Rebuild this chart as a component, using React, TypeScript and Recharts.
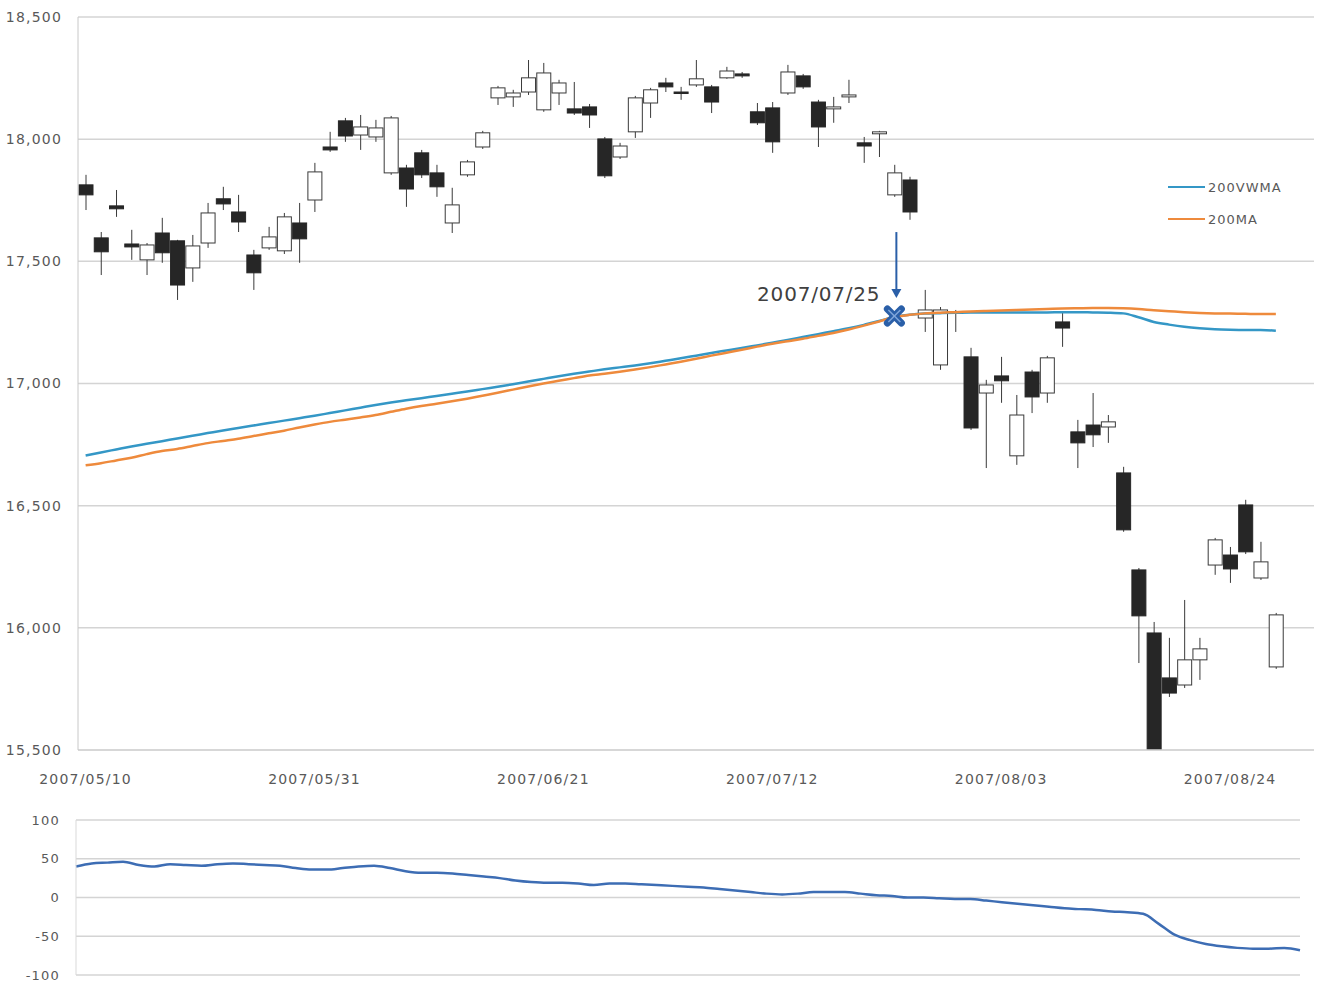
import React from 'react';
import {
  ComposedChart, LineChart, Bar, Line, XAxis, YAxis, CartesianGrid, ReferenceDot,
} from 'recharts';

// trading days (last two rows are empty slots on the axis)
const DATES = [
  '2007/05/10', '2007/05/11', '2007/05/14', '2007/05/15', '2007/05/16', '2007/05/17', '2007/05/18',
  '2007/05/21', '2007/05/22', '2007/05/23', '2007/05/24', '2007/05/25', '2007/05/28', '2007/05/29',
  '2007/05/30', '2007/05/31',
  '2007/06/01', '2007/06/04', '2007/06/05', '2007/06/06', '2007/06/07', '2007/06/08', '2007/06/11',
  '2007/06/12', '2007/06/13', '2007/06/14', '2007/06/15', '2007/06/18', '2007/06/19', '2007/06/20',
  '2007/06/21', '2007/06/22', '2007/06/25', '2007/06/26', '2007/06/27', '2007/06/28', '2007/06/29',
  '2007/07/02', '2007/07/03', '2007/07/04', '2007/07/05', '2007/07/06', '2007/07/09', '2007/07/10',
  '2007/07/11', '2007/07/12', '2007/07/13', '2007/07/17', '2007/07/18', '2007/07/19', '2007/07/20',
  '2007/07/23', '2007/07/24', '2007/07/25', '2007/07/26', '2007/07/27', '2007/07/30', '2007/07/31',
  '2007/08/01', '2007/08/02', '2007/08/03', '2007/08/06', '2007/08/07', '2007/08/08', '2007/08/09',
  '2007/08/10', '2007/08/13', '2007/08/14', '2007/08/15', '2007/08/16', '2007/08/17', '2007/08/20',
  '2007/08/21', '2007/08/22', '2007/08/23', '2007/08/24', '2007/08/27', '2007/08/28', '2007/08/29',
  '2007/08/30', '2007/08/31',
];

const OPEN = [
  17813, 17596, 17727, 17571, 17506, 17616, 17584, 17473, 17575, 17756, 17702, 17526, 17555, 17543, 17657, 17751,
  17968, 18075, 18017, 18009, 17862, 17882, 17944, 17862, 17657, 17854, 17968, 18169, 18173, 18193, 18120, 18189,
  18124, 18132, 18001, 17927, 18030, 18148, 18230, 18193, 18222, 18214, 18251, 18267, 18112, 18128, 18189, 18259,
  18152, 18124, 18173, 17985, 18022, 17772, 17833, 17268, 17076, 17289, 17109, 16961, 17031, 16704, 17047, 16961,
  17252, 16802, 16830, 16822, 16634, 16237, 15979, 15795, 15766, 15869, 16257, 16298, 16503, 16204, 15840,
];
const HIGH = [
  17854, 17620, 17792, 17629, 17575, 17678, 17588, 17608, 17739, 17805, 17772, 17547, 17641, 17698, 17739, 17903,
  18030, 18087, 18099, 18079, 18095, 17895, 17956, 17895, 17801, 17915, 18034, 18218, 18202, 18324, 18312, 18243,
  18234, 18144, 18009, 17985, 18177, 18210, 18251, 18214, 18324, 18222, 18296, 18275, 18148, 18152, 18304, 18267,
  18161, 18173, 18243, 18009, 18034, 17895, 17846, 17383, 17313, 17301, 17146, 17015, 17109, 16953, 17056, 17113,
  17293, 16851, 16961, 16871, 16659, 16245, 16024, 15959, 16114, 15959, 16368, 16331, 16524, 16352, 16061,
];
const LOW = [
  17710, 17444, 17682, 17506, 17444, 17494, 17342, 17416, 17555, 17710, 17620, 17383, 17547, 17530, 17494, 17702,
  17948, 17989, 17956, 17989, 17854, 17723, 17841, 17764, 17616, 17846, 17960, 18140, 18132, 18181, 18112, 18140,
  18099, 18046, 17841, 17919, 18005, 18087, 18193, 18161, 18214, 18107, 18247, 18251, 18058, 17944, 18181, 18206,
  17968, 18067, 18148, 17903, 17927, 17764, 17670, 17211, 17056, 17211, 16810, 16654, 16921, 16667, 16879, 16921,
  17150, 16654, 16740, 16757, 16393, 15856, 15262, 15717, 15754, 15787, 16217, 16184, 16302, 16196, 15832,
];
const CLOSE = [
  17772, 17539, 17715, 17559, 17567, 17535, 17403, 17563, 17698, 17735, 17661, 17453, 17600, 17682, 17592, 17866,
  17956, 18013, 18050, 18046, 18087, 17796, 17854, 17805, 17731, 17907, 18026, 18210, 18189, 18251, 18271, 18230,
  18107, 18099, 17850, 17972, 18169, 18202, 18214, 18189, 18247, 18152, 18279, 18259, 18067, 17989, 18275, 18214,
  18050, 18132, 18181, 17972, 18030, 17862, 17702, 17301, 17301, 17293, 16818, 16994, 17011, 16871, 16945, 17105,
  17227, 16757, 16790, 16843, 16401, 16049, 15273, 15733, 15869, 15914, 16360, 16241, 16311, 16270, 16053,
];

const VWMA = [
  16705, 16718, 16730, 16742, 16753, 16764, 16775, 16786, 16797, 16808, 16818, 16828, 16838, 16848, 16858, 16868,
  16879, 16890, 16901, 16912, 16922, 16931, 16940, 16949, 16958, 16967, 16977, 16987, 16997, 17008, 17019, 17030,
  17040, 17049, 17058, 17066, 17074, 17083, 17093, 17103, 17114, 17125, 17135, 17145, 17156, 17167, 17178, 17190,
  17202, 17214, 17226, 17240, 17256, 17272, 17281, 17286, 17288, 17290, 17291, 17291, 17291, 17291, 17291, 17291,
  17292, 17292, 17291, 17290, 17287, 17271, 17252, 17241, 17232, 17226, 17222, 17220, 17219, 17219, 17216,
];
const MA = [
  16665, 16674, 16685, 16696, 16711, 16724, 16732, 16744, 16756, 16765, 16774, 16785, 16796, 16807, 16820, 16832,
  16843, 16852, 16861, 16871, 16884, 16897, 16908, 16917, 16927, 16938, 16950, 16962, 16975, 16988, 17000, 17011,
  17022, 17033, 17040, 17048, 17057, 17067, 17078, 17089, 17101, 17114, 17126, 17138, 17151, 17163, 17173, 17183,
  17195, 17207, 17221, 17237, 17254, 17272, 17281, 17287, 17290, 17292, 17295, 17297, 17299, 17301, 17303, 17305,
  17307, 17308, 17309, 17309, 17308, 17305, 17300, 17296, 17292, 17289, 17287, 17286, 17285, 17284, 17284,
];
const DIFF = [
  40, 44, 45, 46, 42, 40, 43, 42, 41, 43, 44, 43, 42, 41, 38, 36,
  36, 38, 40, 41, 38, 34, 32, 32, 31, 29, 27, 25, 22, 20, 19, 19,
  18, 16, 18, 18, 17, 16, 15, 14, 13, 11, 9, 7, 5, 4, 5, 7,
  7, 7, 5, 3, 2, 0, 0, -1, -2, -2, -4, -6, -8, -10, -12, -14,
  -15, -16, -18, -19, -21, -34, -48, -55, -60, -63, -65, -66, -66, -65, -68,
];

const PRICE_TICKS = [15500, 16000, 16500, 17000, 17500, 18000, 18500];
const DIFF_TICKS = [-100, -50, 0, 50, 100];
const CROSS_DATE = '2007/07/25';
const CROSS_VALUE = 17276;

const SERIES = [
  { key: 'vwma', name: '200VWMA', color: '#3497c6' },
  { key: 'ma', name: '200MA', color: '#ee8a3c' },
];

const rows = DATES.map((date, i) =>
  i < OPEN.length
    ? { date, range: [LOW[i], HIGH[i]], open: OPEN[i], high: HIGH[i], low: LOW[i], close: CLOSE[i], vwma: VWMA[i], ma: MA[i] }
    : { date }
);
const diffRows = DIFF.map((v, i) => ({ date: DATES[i], diff: v }));

const tickStyle = { fontSize: 14, fontFamily: 'DejaVu Sans', fill: '#595959', letterSpacing: 1.2 };
const smallTick = { ...tickStyle, fontSize: 13 };

function Candle(props: any) {
  const { x, y, width, height, payload } = props;
  if (!payload || payload.open == null) return null;
  const { open, close, high, low } = payload;
  const top = Math.min(y, y + height);
  const h = Math.abs(height);
  const k = h / (high - low);
  const bTop = top + (high - Math.max(open, close)) * k;
  const bBot = top + (high - Math.min(open, close)) * k;
  const mid = x + width / 2;
  const down = close < open;
  return (
    <g>
      <line x1={mid} x2={mid} y1={top} y2={top + h} stroke="#3a3a3a" strokeWidth={1} />
      <rect
        x={x} y={bTop} width={width} height={Math.max(bBot - bTop, 1.5)}
        fill={down ? '#262626' : '#ffffff'} stroke={down ? '#262626' : '#3a3a3a'} strokeWidth={1}
      />
    </g>
  );
}

function CrossMarker(props: any) {
  const { cx, cy } = props;
  if (cx == null || cy == null) return null;
  const blue = '#2a5fa8';
  return (
    <g>
      <text x={cx - 14} y={cy - 15} textAnchor="end" fontSize={20} fontFamily="DejaVu Sans" fill="#404040" letterSpacing={0.8}>
        {CROSS_DATE}
      </text>
      <line x1={cx + 2} x2={cx + 2} y1={cy - 84} y2={cy - 26} stroke={blue} strokeWidth={2} />
      <path d={`M${cx - 3},${cy - 27} L${cx + 7},${cy - 27} L${cx + 2},${cy - 18} Z`} fill={blue} />
      <line x1={cx - 7} y1={cy - 7} x2={cx + 7} y2={cy + 7} stroke={blue} strokeWidth={7} strokeLinecap="round" />
      <line x1={cx - 7} y1={cy + 7} x2={cx + 7} y2={cy - 7} stroke={blue} strokeWidth={7} strokeLinecap="round" />
      <line x1={cx - 6} y1={cy - 6} x2={cx + 6} y2={cy + 6} stroke="#7fa6da" strokeWidth={1.5} />
      <line x1={cx - 6} y1={cy + 6} x2={cx + 6} y2={cy - 6} stroke="#7fa6da" strokeWidth={1.5} />
    </g>
  );
}

function LegendBox() {
  return (
    <div style={{ position: 'absolute', left: 1168, top: 171 }}>
      {SERIES.map((s) => (
        <div key={s.key} style={{ display: 'flex', alignItems: 'center', height: 32 }}>
          <span style={{ display: 'inline-block', width: 37, borderTop: `2.5px solid ${s.color}`, marginRight: 3 }} />
          <span style={{ fontSize: 13, fontFamily: 'DejaVu Sans', color: '#595959', letterSpacing: 1 }}>{s.name}</span>
        </div>
      ))}
    </div>
  );
}

export default function App() {
  return (
    <div style={{ position: 'absolute', left: 0, top: 0, width: 1318, height: 983, background: '#fff' }}>
      <ComposedChart width={1318} height={800} data={rows} margin={{ top: 17, right: 4, left: 0, bottom: 0 }}>
        <CartesianGrid vertical={false} stroke="#d4d4d4" strokeWidth={1.5} />
        <XAxis
          dataKey="date" interval={14} height={50} tickLine={false}
          axisLine={{ stroke: '#d4d4d4', strokeWidth: 1.5 }} tickMargin={18} tick={tickStyle}
        />
        <YAxis
          domain={[15500, 18500]} ticks={PRICE_TICKS} interval={0} allowDataOverflow width={78}
          tickLine={false} tickSize={6} tickMargin={10} axisLine={{ stroke: '#c8c8c8' }}
          tickFormatter={(v: number) => v.toLocaleString('en-US')} tick={tickStyle}
        />
        <Bar dataKey="range" barSize={14} shape={<Candle />} isAnimationActive={false} />
        {SERIES.map((s) => (
          <Line
            key={s.key} type="monotone" dataKey={s.key} name={s.name} stroke={s.color}
            strokeWidth={2.5} dot={false} isAnimationActive={false}
          />
        ))}
        <ReferenceDot x={CROSS_DATE} y={CROSS_VALUE} shape={(p: any) => <CrossMarker {...p} />} />
      </ComposedChart>
      <LegendBox />
      <div style={{ position: 'absolute', left: 0, top: 800 }}>
        <LineChart width={1318} height={183} data={diffRows} margin={{ top: 20, right: 18, left: 0, bottom: 8 }}>
          <CartesianGrid vertical={false} stroke="#d4d4d4" strokeWidth={1.5} />
          <XAxis dataKey="date" hide height={0} />
          <YAxis
            domain={[-100, 100]} ticks={DIFF_TICKS} interval={0} width={76} tickLine={false} tickSize={6} tickMargin={10}
            axisLine={{ stroke: '#d9d9d9' }} tick={smallTick}
          />
          <Line type="monotone" dataKey="diff" stroke="#3d6db4" strokeWidth={2.5} dot={false} isAnimationActive={false} />
        </LineChart>
      </div>
    </div>
  );
}
